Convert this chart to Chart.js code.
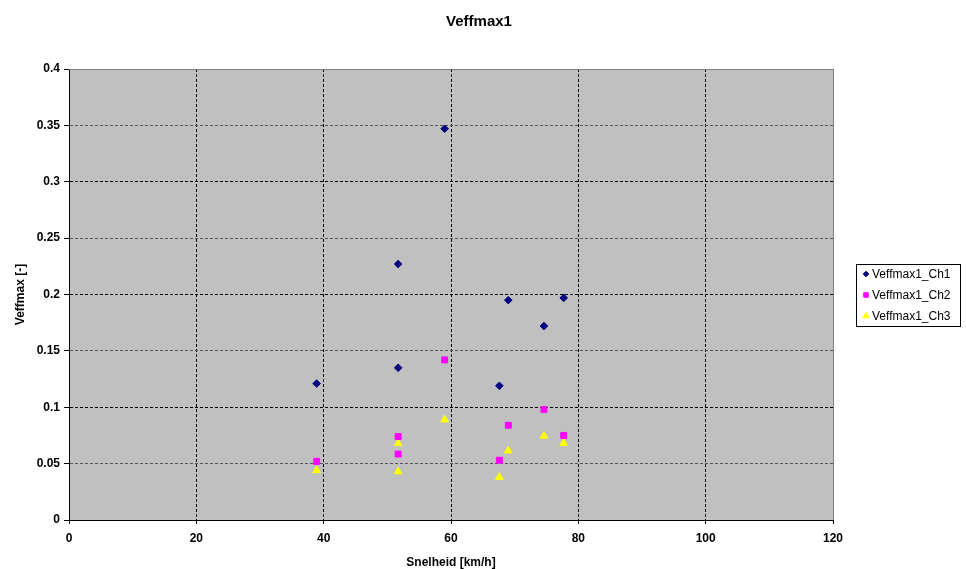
<!DOCTYPE html>
<html>
<head>
    <title>Veffmax1</title>
    <style>
        body {
            margin: 0;
            padding: 0;
            background: #fff;
        }
    </style>
</head>
<body>
    <canvas id="chart" width="966" height="569"></canvas>
    <script src="https://cdn.jsdelivr.net/npm/chart.js"></script>
    <script>
        // values
        var speed = [38.9, 51.7, 51.7, 59.0, 67.6, 69.0, 74.6, 77.7];
        var ch1 = [0.121, 0.227, 0.135, 0.347, 0.119, 0.195, 0.172, 0.197];
        var ch2 = [0.052, 0.074, 0.0585, 0.142, 0.053, 0.084, 0.098, 0.075];
        var ch3 = [0.044, 0.068, 0.043, 0.089, 0.038, 0.0615, 0.0745, 0.068];
        var seriesNames = ['Veffmax1_Ch1', 'Veffmax1_Ch2', 'Veffmax1_Ch3'];

        function toPoints(ys) {
            return speed.map(function(x, i) { return { x: x, y: ys[i] }; });
        }

        var font = 'Liberation Sans, Arial, sans-serif';

        // grey plot area + top/right border
        var plotArea = {
            id: 'plotArea',
            beforeDraw: function(chart) {
                var a = chart.chartArea, ctx = chart.ctx;
                ctx.save();
                ctx.fillStyle = '#c0c0c0';
                ctx.fillRect(a.left, a.top, a.right - a.left, a.bottom - a.top);
                ctx.restore();
            },
            afterDatasetsDraw: function(chart) {
                var a = chart.chartArea, ctx = chart.ctx;
                ctx.save();
                ctx.strokeStyle = '#808080';
                ctx.lineWidth = 1;
                ctx.beginPath();
                ctx.moveTo(a.left, a.top + 0.5);
                ctx.lineTo(a.right + 0.5, a.top + 0.5);
                ctx.lineTo(a.right + 0.5, a.bottom);
                ctx.stroke();
                ctx.restore();
            }
        };

        // boxed legend on the right
        var boxLegend = {
            id: 'boxLegend',
            afterDraw: function(chart) {
                var ctx = chart.ctx;
                ctx.save();
                ctx.fillStyle = '#fff';
                ctx.fillRect(856, 264, 104, 62);
                ctx.strokeStyle = '#000';
                ctx.lineWidth = 1;
                ctx.strokeRect(856.5, 264.5, 104, 62);
                chart.data.datasets.forEach(function(ds, i) {
                    var y = 274 + i * 21;
                    ctx.fillStyle = ds.backgroundColor;
                    ctx.strokeStyle = ds.borderColor;
                    ctx.lineWidth = 1;
                    Chart.helpers.drawPoint(ctx, {
                        pointStyle: ds.pointStyle,
                        radius: ds.pointRadius - 1,
                        borderWidth: 1
                    }, 866, y);
                    ctx.fillStyle = '#000';
                    ctx.font = '12px ' + font;
                    ctx.textBaseline = 'middle';
                    ctx.textAlign = 'left';
                    ctx.fillText(ds.label, 872, y + 1);
                });
                ctx.restore();
            }
        };

        new Chart(document.getElementById('chart'), {
            type: 'scatter',
            data: {
                datasets: [{
                    label: seriesNames[0],
                    data: toPoints(ch1),
                    pointStyle: 'rectRot',
                    pointRadius: 3.8,
                    backgroundColor: '#000080',
                    borderColor: '#000080',
                    borderWidth: 1
                }, {
                    label: seriesNames[1],
                    data: toPoints(ch2),
                    pointStyle: 'rect',
                    pointRadius: 4.2,
                    backgroundColor: '#ff00ff',
                    borderColor: '#ff00ff',
                    borderWidth: 1
                }, {
                    label: seriesNames[2],
                    data: toPoints(ch3),
                    pointStyle: 'triangle',
                    pointRadius: 4.5,
                    backgroundColor: '#ffff00',
                    borderColor: '#ffff00',
                    borderWidth: 1
                }]
            },
            options: {
                responsive: false,
                animation: false,
                devicePixelRatio: 1,
                layout: {
                    padding: { left: 0, right: 8, top: 0, bottom: 0 }
                },
                plugins: {
                    legend: { display: false },
                    tooltip: { enabled: false },
                    title: {
                        display: true,
                        text: 'Veffmax1',
                        color: '#000',
                        font: { family: font, size: 15, weight: 'bold' },
                        padding: { top: 13, bottom: 38 }
                    }
                },
                scales: {
                    x: {
                        type: 'linear',
                        min: 0,
                        max: 120,
                        afterFit: function(scale) { scale.height = 49; },
                        ticks: {
                            stepSize: 20,
                            color: '#000',
                            padding: 7,
                            maxRotation: 0,
                            font: { family: font, size: 12, weight: 'bold' }
                        },
                        grid: {
                            color: '#000',
                            tickColor: '#000',
                            tickLength: 4,
                            lineWidth: 1
                        },
                        border: { color: '#000', width: 1, dash: [3, 2] },
                        title: {
                            display: true,
                            text: 'Snelheid [km/h]',
                            color: '#000',
                            font: { family: font, size: 12, weight: 'bold' },
                            padding: { top: 0, bottom: -1 }
                        }
                    },
                    y: {
                        min: 0,
                        max: 0.4,
                        afterFit: function(scale) { scale.width = 69; },
                        ticks: {
                            stepSize: 0.05,
                            color: '#000',
                            padding: 4,
                            font: { family: font, size: 12, weight: 'bold' },
                            callback: function(v) { return String(Number(v.toFixed(2))); }
                        },
                        grid: {
                            color: function(c) { return c.index % 2 === 1 ? '#555' : '#000'; },
                            tickColor: '#000',
                            tickLength: 5,
                            lineWidth: 1
                        },
                        border: { color: '#000', width: 1, dash: [3, 2] },
                        title: {
                            display: true,
                            text: 'Veffmax [-]',
                            color: '#000',
                            font: { family: font, size: 12, weight: 'bold' },
                            padding: { top: 13, bottom: 0 }
                        }
                    },
                    // empty space on the right that holds the legend
                    side: {
                        position: 'right',
                        display: true,
                        afterFit: function(scale) { scale.width = 125; },
                        ticks: { display: false },
                        grid: { display: false, drawTicks: false },
                        border: { display: false }
                    }
                }
            },
            plugins: [plotArea, boxLegend]
        });
    </script>
</body>
</html>
